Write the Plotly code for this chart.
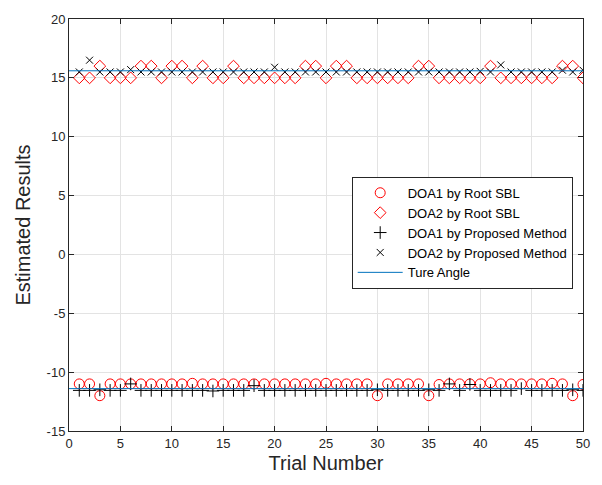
import plotly.graph_objects as go

trials = list(range(1, 51))

# DOA1 by Root SBL (circles)
doa1_sbl = [-11, -11, -12, -11, -11, -11, -11, -11, -11, -11,
            -11, -10.95, -11, -11, -11, -11, -11, -11, -11, -11,
            -11, -11, -11, -11, -10.95, -11, -11, -11, -11, -12,
            -11, -11, -11, -11, -12, -11.05, -11, -11, -11, -11,
            -10.9, -11, -11, -11, -11, -11, -10.95, -11, -12, -11.05]

# DOA2 by Root SBL (diamonds)
doa2_sbl = [15, 15, 16, 15, 15, 15, 16, 16, 15, 16,
            16, 15, 16, 15, 15, 16, 15, 15, 15, 15,
            15, 15, 16, 16, 15, 16, 16, 15, 15, 15,
            15, 15, 15, 16, 16, 15, 15, 15, 15, 15,
            16, 15, 15, 15, 15, 15, 15, 16, 16, 15]

# DOA1 by Proposed Method (+)
doa1_prop = [-11.55, -11.55, -11.5, -11.55, -11.55, -11.0, -11.55, -11.55, -11.55, -11.55,
             -11.55, -11.55, -11.55, -11.6, -11.55, -11.55, -11.55, -11.15, -11.55, -11.55,
             -11.55, -11.55, -11.55, -11.55, -11.55, -11.55, -11.55, -11.55, -11.55, -11.5,
             -11.55, -11.55, -11.55, -11.55, -11.5, -11.55, -11.0, -11.55, -11.05, -11.55,
             -11.55, -11.55, -11.55, -11.4, -11.55, -11.55, -11.55, -11.55, -11.5, -11.55]

# DOA2 by Proposed Method (x)
doa2_prop = [15.5, 16.5, 15.5, 15.5, 15.5, 15.7, 15.5, 15.5, 15.5, 15.5,
             15.5, 15.5, 15.5, 15.5, 15.5, 15.5, 15.5, 15.5, 15.5, 15.9,
             15.5, 15.5, 15.5, 15.5, 15.5, 15.5, 15.5, 15.5, 15.5, 15.5,
             15.5, 15.5, 15.5, 15.5, 15.5, 15.5, 15.5, 15.5, 15.5, 15.55,
             15.5, 16.1, 15.5, 15.5, 15.5, 15.5, 15.5, 15.65, 15.5, 15.65]

true_angles = [15.6, -11.4]
x_range = [0, 50]

x_tickvals = [0, 5, 10, 15, 20, 25, 30, 35, 40, 45, 50]
x_ticktext = ["0", "5", "10", "15", "20", "25", "30", "35", "40", "45", "50"]
y_tickvals = [-15, -10, -5, 0, 5, 10, 15, 20]
y_ticktext = ["-15", "-10", "-5", "0", "5", "10", "15", "20"]

fig = go.Figure()

fig.add_trace(go.Scatter(x=trials, y=doa1_sbl, mode="markers", name="DOA1 by Root SBL",
                         marker=dict(symbol="circle-open", size=10, color="#ff0000",
                                     line=dict(width=1, color="#ff0000"))))
fig.add_trace(go.Scatter(x=trials, y=doa2_sbl, mode="markers", name="DOA2 by Root SBL",
                         marker=dict(symbol="diamond-open", size=9, color="#ff0000",
                                     line=dict(width=1, color="#ff0000"))))
fig.add_trace(go.Scatter(x=trials, y=doa1_prop, mode="markers", name="DOA1 by Proposed Method",
                         marker=dict(symbol="cross-thin-open", size=9, color="#000000",
                                     line=dict(width=1, color="#000000"))))
fig.add_trace(go.Scatter(x=trials, y=doa2_prop, mode="markers", name="DOA2 by Proposed Method",
                         marker=dict(symbol="x-thin-open", size=7, color="#000000",
                                     line=dict(width=1, color="#000000"))))

tx, ty = [], []
for a in true_angles:
    tx += [x_range[0], x_range[1], None]
    ty += [a, a, None]
fig.add_trace(go.Scatter(x=tx, y=ty, mode="lines", name="Ture Angle",
                         line=dict(color="#0072BD", width=1)))

axis_common = dict(
    showgrid=True, gridcolor="#e3e3e3", gridwidth=1,
    showline=True, linecolor="#262626", linewidth=1, mirror="ticks",
    ticks="inside", ticklen=5, tickcolor="#262626",
    zeroline=False,
    tickfont=dict(family="Liberation Sans, Arial", size=13, color="#262626"),
)

fig.update_xaxes(range=[0, 50], tickmode="array", tickvals=x_tickvals, ticktext=x_ticktext,
                 title=dict(text="Trial Number", font=dict(family="Liberation Sans, Arial", size=20, color="#262626"), standoff=6),
                 **axis_common)
fig.update_yaxes(range=[-15, 20], tickmode="array", tickvals=y_tickvals, ticktext=y_ticktext,
                 title=dict(text="Estimated Results", font=dict(family="Liberation Sans, Arial", size=20, color="#262626"), standoff=10),
                 **axis_common)

fig.update_layout(
    width=602, height=485,
    margin=dict(l=69, r=17, t=16, b=54),
    plot_bgcolor="white", paper_bgcolor="white",
    legend=dict(x=0.55, y=0.617, xanchor="left", yanchor="top",
                bgcolor="white", bordercolor="#262626", borderwidth=1,
                font=dict(family="Liberation Sans, Arial", size=13, color="#000000"),
                itemwidth=45, tracegroupgap=0),
    showlegend=True,
)

fig.write_html("out.html")
